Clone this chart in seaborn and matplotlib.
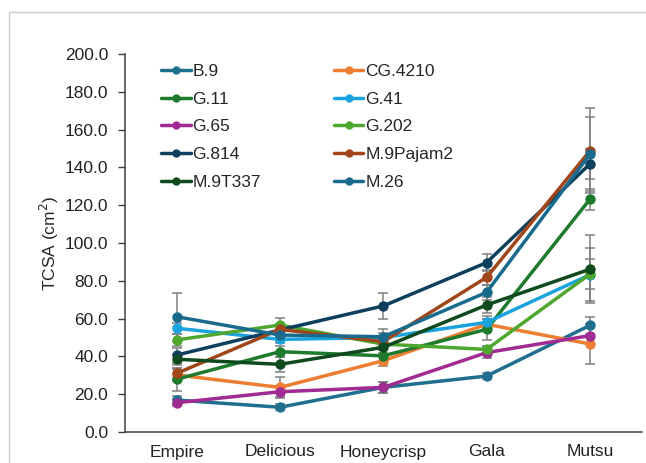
import numpy as np
import pandas as pd
import matplotlib
matplotlib.use("Agg")
import matplotlib.pyplot as plt
from matplotlib.lines import Line2D
import seaborn as sns

cultivars = ['Empire', 'Delicious', 'Honeycrisp', 'Gala', 'Mutsu']
rootstocks = ['B.9', 'CG.4210', 'G.11', 'G.41', 'G.65', 'G.202',
              'G.814', 'M.9Pajam2', 'M.9T337', 'M.26']

b9 = [16.9, 13.1, 23.6, 29.6, 56.4]
cg4210 = [30.2, 23.6, 37.7, 57.0, 46.6]
g11 = [27.9, 42.5, 40.3, 54.3, 123.1]
g41 = [54.9, 49.0, 50.0, 58.0, 83.2]
g65 = [15.5, 21.3, 23.6, 42.0, 51.0]
g202 = [48.7, 56.6, 46.5, 43.7, 83.5]
g814 = [40.7, 54.0, 66.7, 89.6, 141.8]
m9pajam2 = [31.0, 54.3, 47.8, 81.8, 148.7]
m9t337 = [38.5, 35.8, 44.8, 67.2, 86.1]
m26 = [61.0, 51.3, 50.4, 73.9, 146.9]

b9_err = [2.0, 1.5, 3.0, 1.5, 4.6]
cg4210_err = [3.0, 5.5, 3.0, 3.0, 10.8]
g11_err = [6.0, 3.0, 3.0, 5.6, 5.6]
g41_err = [3.0, 2.0, 2.5, 3.5, 14.0]
g65_err = [2.0, 3.0, 3.0, 3.0, 4.0]
g202_err = [3.0, 3.5, 3.0, 2.0, 8.0]
g814_err = [4.0, 3.0, 6.7, 4.6, 8.0]
m9pajam2_err = [3.0, 3.0, 3.0, 4.0, 22.5]
m9t337_err = [3.0, 4.0, 3.0, 4.0, 18.0]
m26_err = [12.7, 3.0, 4.0, 4.0, 19.6]

means = [b9, cg4210, g11, g41, g65, g202, g814, m9pajam2, m9t337, m26]
errs = [b9_err, cg4210_err, g11_err, g41_err, g65_err, g202_err,
        g814_err, m9pajam2_err, m9t337_err, m26_err]

colors = ['#1F6F8E', '#ED7D31', '#1E7B2E', '#1BA3DD', '#A02B93',
          '#4EA72E', '#0E3F5C', '#A0461A', '#0F4A1E', '#196A8C']

df = pd.DataFrame({
    'Cultivar': cultivars * len(rootstocks),
    'Rootstock': np.repeat(rootstocks, len(cultivars)),
    'TCSA': np.concatenate(means),
    'err': np.concatenate(errs),
})

sns.set_style('white')
plt.rcParams['font.family'] = ['Liberation Sans', 'DejaVu Sans']

fig = plt.figure(figsize=(6.46, 4.63), dpi=100)
ax = fig.add_axes([125 / 646, 1 - 432 / 463, (641.5 - 125) / 646, (432 - 54) / 463])

for name, col in zip(rootstocks, colors):
    sub = df[df['Rootstock'] == name]
    ax.errorbar(sub['Cultivar'], sub['TCSA'], yerr=sub['err'], fmt='none',
                ecolor='#808080', elinewidth=1.1, capsize=3.5, capthick=1.1, zorder=1.5)

sns.lineplot(data=df, x='Cultivar', y='TCSA', hue='Rootstock', hue_order=rootstocks,
             palette=colors, marker='o', markersize=7.5, markeredgewidth=0,
             linewidth=2.5, errorbar=None, sort=False, ax=ax, zorder=2)

ax.set_xlim(-0.5, 4.5)
ax.set_ylim(0, 200)
ax.set_yticks(np.arange(0, 201, 20))
ax.set_yticklabels([f'{v:.1f}' for v in np.arange(0, 201, 20)])
ax.set_xlabel('')
ax.set_ylabel('TCSA (cm$^2$)', fontsize=12.5, labelpad=3)

for s in ['top', 'right']:
    ax.spines[s].set_visible(False)
for s in ['left', 'bottom']:
    ax.spines[s].set_color('#404040')
    ax.spines[s].set_linewidth(1.1)

ax.tick_params(axis='y', left=True, length=5, width=1, color='#404040',
               labelsize=12.5, pad=7, labelcolor='#222222')
ax.tick_params(axis='x', bottom=False, length=0, labelsize=12.5, pad=9,
               labelcolor='#222222')

order = [0, 2, 4, 6, 8, 1, 3, 5, 7, 9]
handles = [Line2D([], [], color=colors[i], lw=2.5, marker='o', markersize=6,
                  markeredgewidth=0) for i in order]
labels = [rootstocks[i] for i in order]
ax.legend(handles, labels, ncol=2, frameon=False, fontsize=12.5,
          loc='upper left', bbox_to_anchor=(0.04, 1.015), handlelength=1.7,
          handletextpad=0.1, columnspacing=4.2, labelspacing=0.72)

# light chart-area border (left and top only visible in the crop)
fig.add_artist(Line2D([9 / 646, 9 / 646], [0, 1 - 12 / 463], color='#d0d0d0', lw=1,
                      transform=fig.transFigure))
fig.add_artist(Line2D([9 / 646, 1], [1 - 12 / 463, 1 - 12 / 463], color='#d0d0d0', lw=1,
                      transform=fig.transFigure))

fig.savefig('out.png', dpi=100)
